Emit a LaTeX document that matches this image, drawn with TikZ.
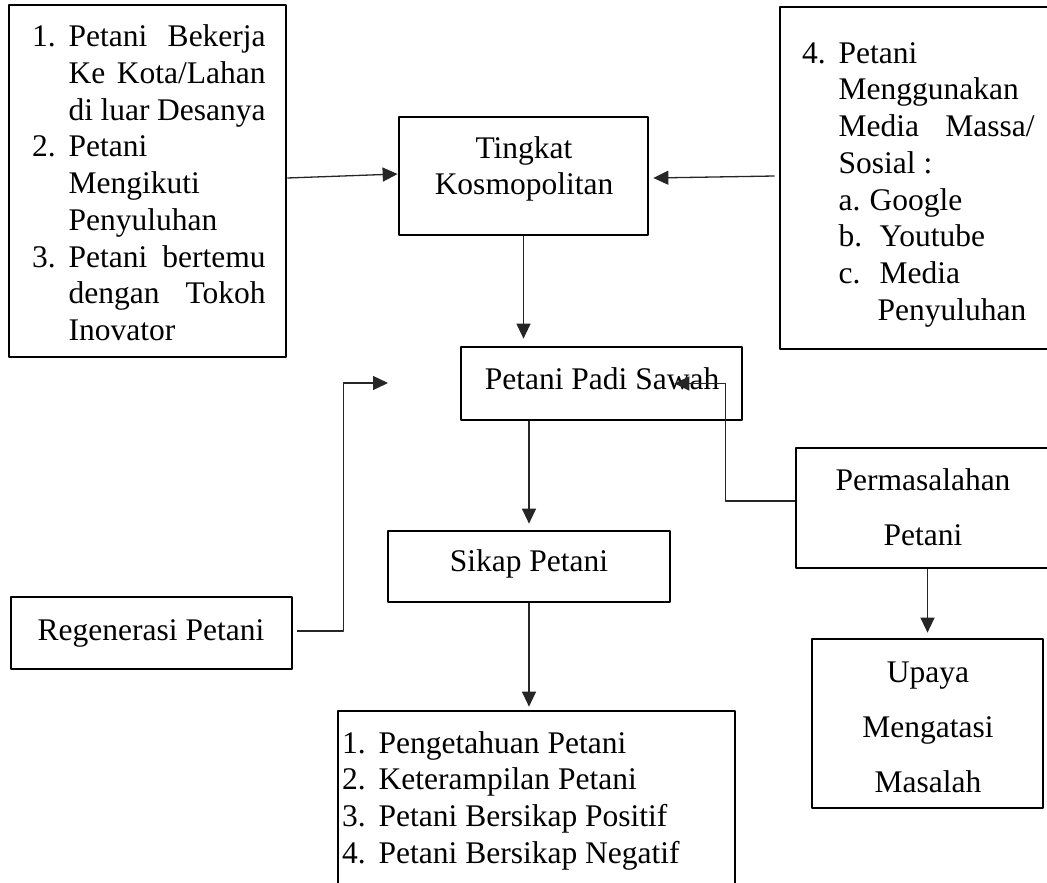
\documentclass[tikz,border=0pt]{standalone}
\usepackage{fontspec}
\setmainfont{Liberation Serif}
\usetikzlibrary{arrows.meta,calc}
\tikzset{
  box/.style={draw,line width=2.7bp,inner sep=0pt},
  txt/.style={inner sep=0pt,anchor=base,font=\fontsize{31.5bp}{36.75bp}\selectfont},
  txtwide/.style={txt,font=\fontsize{31.5bp}{55bp}\selectfont},
  edge/.style={->,line width=1.3bp,draw=black!85},
}
\newcommand\numbox[1]{\makebox[36.5bp][l]{#1}}

\begin{document}
\begin{tikzpicture}[x=1bp,y=-1bp,>={Triangle[length=15bp,width=14bp]},line join=bevel]
  \useasboundingbox (0,0) rectangle (1047,883);
%%
  % Node: lhs
  \node[box,minimum width=277bp,minimum height=352bp] (lhs) at (147.5,181) {};
  \node[txt,anchor=base west] (lhs-t) at (32,46.7) {\begin{tabular}[t]{@{}l@{}}
      \numbox{1.}\makebox[197bp][s]{Petani Bekerja}\\
      \numbox{}\makebox[197bp][s]{Ke Kota/Lahan}\\
      \numbox{}\makebox[197bp][s]{di luar Desanya}\\
      \numbox{2.}Petani\\
      \numbox{}Mengikuti\\
      \numbox{}Penyuluhan\\
      \numbox{3.}\makebox[197bp][s]{Petani bertemu}\\
      \numbox{}\makebox[197bp][s]{dengan Tokoh}\\
      \numbox{}Inovator
    \end{tabular}};
  % Node: kosmo
  \node[box,minimum width=249bp,minimum height=118bp] (kosmo) at (523.5,176) {};
  \node[txt] (kosmo-t) at (524,158) {\begin{tabular}[t]{@{}c@{}}
      Tingkat\\
      Kosmopolitan
    \end{tabular}};
  % Node: media
  \node[box,minimum width=290bp,minimum height=342bp] (media) at (925,178) {};
  \node[txt,anchor=base west] (media-t) at (802,63) {\begin{tabular}[t]{@{}l@{}}
      \numbox{4.}Petani\\
      \numbox{}Menggunakan\\
      \numbox{}\makebox[196bp][s]{Media Massa/}\\
      \numbox{}Sosial :\\
      \numbox{}\makebox[31bp][l]{a.}Google\\
      \numbox{}\makebox[41bp][l]{b.}Youtube\\
      \numbox{}\makebox[41bp][l]{c.}Media\\
      \numbox{}\hspace{39bp}Penyuluhan
    \end{tabular}};
  % Node: sawah
  \node[box,minimum width=281bp,minimum height=73bp] (sawah) at (601.5,383.5) {};
  \node[txt] (sawah-t) at (602,389) {Petani Padi Sawah};
  % Node: sikap
  \node[box,minimum width=282bp,minimum height=71bp] (sikap) at (529,566.5) {};
  \node[txt] (sikap-t) at (529,571) {Sikap Petani};
  % Node: regen
  \node[box,minimum width=281bp,minimum height=72bp] (regen) at (151.5,633) {};
  \node[txt] (regen-t) at (151,640) {Regenerasi Petani};
  % Node: hasil
  \node[box,minimum width=397bp,minimum height=189bp] (hasil) at (536.5,805.5) {};
  \node[txt,anchor=base west] (hasil-t) at (342,753) {\begin{tabular}[t]{@{}l@{}}
      \numbox{1.}Pengetahuan Petani\\
      \numbox{2.}Keterampilan Petani\\
      \numbox{3.}Petani Bersikap Positif\\
      \numbox{4.}Petani Bersikap Negatif
    \end{tabular}};
  % Node: masalah
  \node[box,minimum width=274bp,minimum height=120bp] (masalah) at (933,508) {};
  \node[txtwide] (masalah-t) at (923,490) {\begin{tabular}[t]{@{}c@{}}
      Permasalahan\\
      Petani
    \end{tabular}};
  % Node: upaya
  \node[box,minimum width=231bp,minimum height=169bp] (upaya) at (927.5,723.5) {};
  \node[txtwide] (upaya-t) at (928,682) {\begin{tabular}[t]{@{}c@{}}
      Upaya\\
      Mengatasi\\
      Masalah
    \end{tabular}};
  \coordinate (regen-end) at (388,383);
%%
  % Edge: lhs -> kosmo
  \draw[edge] ([yshift=3bp]lhs.east) -- ([yshift=2bp]kosmo.west);
  % Edge: media -> kosmo
  \draw[edge] ([xshift=-4bp,yshift=2bp]media.west) -- ([xshift=4bp,yshift=-2bp]kosmo.east);
  % Edge: kosmo -> sawah
  \draw[edge] (kosmo.south) -- ($(kosmo.south |- sawah.north)+(0,-7)$);
  % Edge: sawah -> sikap
  \draw[edge] (sikap.north |- sawah.south) -- ($(sikap.north)+(0,-6)$);
  % Edge: sikap -> hasil
  \draw[edge] (sikap.south) -- ($(sikap.south |- hasil.north)+(0,-3)$);
  % Edge: regen -> regen-end
  \draw[edge] ([xshift=4bp,yshift=2bp]regen.east) -- ++(46,0) |- (regen-end);
  % Edge: masalah -> sawah
  \draw[edge] ([yshift=7bp]masalah.west) -- ++(-69,0) |- ([xshift=-69bp]sawah.east);
  % Edge: masalah -> upaya
  \draw[edge] (upaya.north |- masalah.south) -- ($(upaya.north)+(0,-5)$);
%
\end{tikzpicture}
\end{document}
